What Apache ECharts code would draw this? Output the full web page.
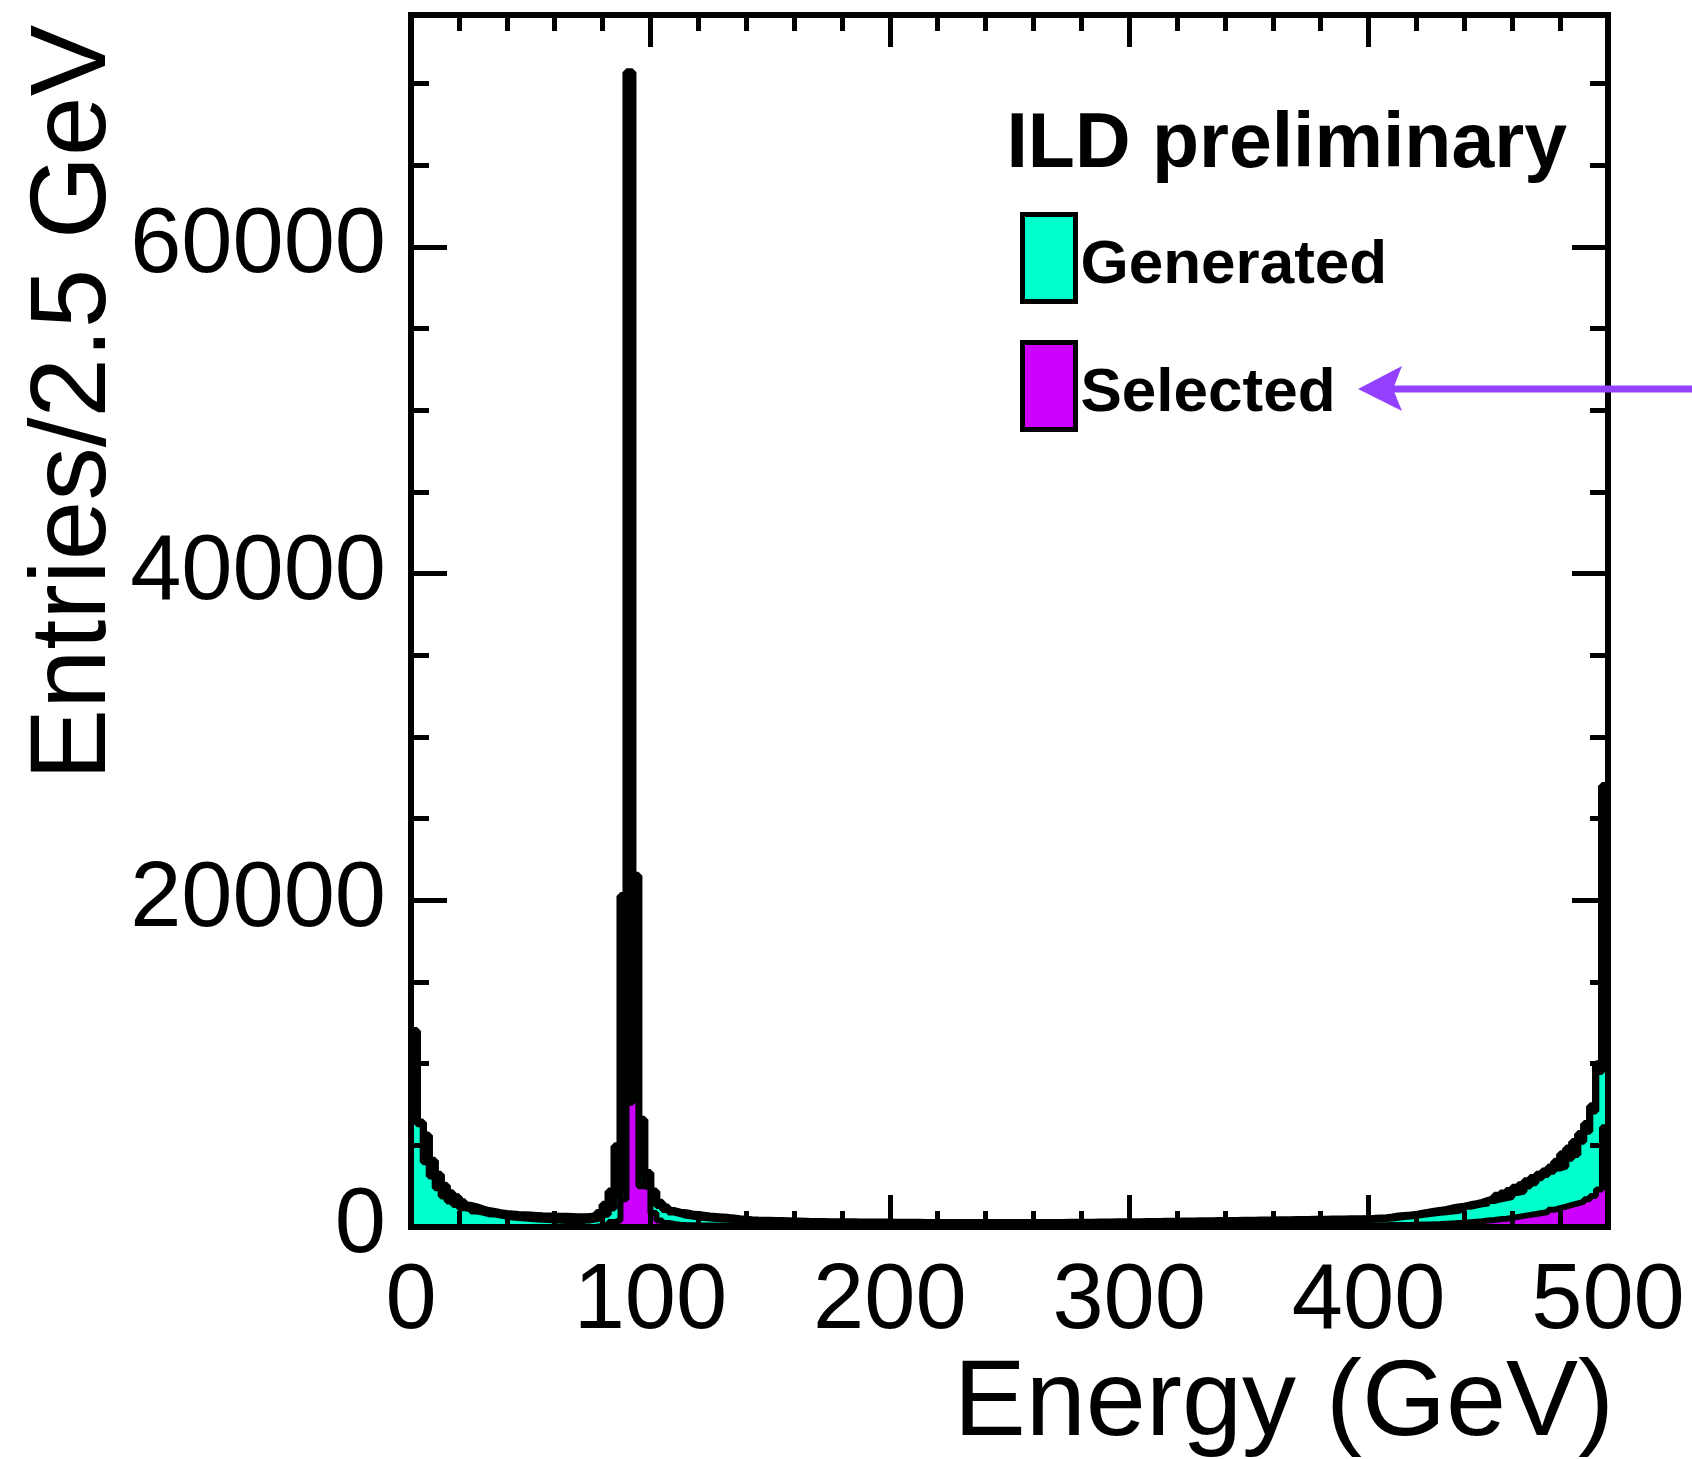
<!DOCTYPE html>
<html><head><meta charset="utf-8">
<script src="https://cdn.jsdelivr.net/npm/echarts@6/dist/echarts.min.js"></script>
<style>html,body{margin:0;padding:0;background:#fff;}#c{width:1692px;height:1459px;}</style>
</head><body><div id="c"></div>
<script>
const BIN_WIDTH = 2.5;
const xTickLabels = [0, 100, 200, 300, 400, 500];
const yTickLabels = [0, 20000, 40000, 60000];
const legendNames = ['Generated', 'Selected'];

// black thick histogram (all entries)
const totalCounts = [
 12000, 6400, 5600, 4050, 3200, 2530, 2070, 1820, 1510, 1300,
 1200, 1080, 980, 920, 850, 800, 770, 740, 720, 700,
 680, 660, 650, 640, 630, 620, 610, 600, 600, 610,
 700, 850, 1360, 2180, 4940, 20260, 70700, 21500, 6560, 3300,
 2180, 1480, 1200, 980, 880, 840, 770, 730, 690, 650,
 620, 590, 560, 520, 480, 450, 420, 400, 390, 380,
 370, 360, 350, 340, 330, 320, 310, 305, 300, 295,
 290, 290, 285, 285, 280, 280, 275, 275, 270, 270,
 265, 260, 260, 255, 255, 250, 250, 250, 250, 245,
 245, 245, 245, 245, 245, 245, 245, 245, 245, 245,
 245, 245, 245, 245, 245, 245, 250, 250, 250, 255,
 255, 260, 260, 265, 270, 275, 280, 285, 290, 290,
 290, 295, 300, 305, 310, 315, 320, 325, 330, 335,
 340, 345, 350, 355, 360, 365, 370, 375, 380, 385,
 390, 395, 400, 405, 410, 415, 420, 425, 430, 435,
 440, 445, 450, 455, 460, 465, 470, 475, 480, 490,
 500, 520, 540, 580, 640, 670, 700, 740, 820, 870,
 940, 990, 1050, 1130, 1190, 1240, 1330, 1400, 1480, 1600,
 1700, 1910, 2050, 2210, 2400, 2550, 2800, 3000, 3200, 3400,
 3650, 4000, 4450, 4800, 5200, 5700, 6300, 7400, 9960, 27000
];

const generatedCounts = [
 6800, 6300, 3980, 3100, 2390, 1880, 1570, 1360, 1160, 1100,
 960, 900, 800, 780, 715, 650, 590, 560, 530, 500,
 480, 460, 440, 420, 400, 390, 380, 380, 390, 420,
 480, 560, 760, 1150, 1900, 2300, 7800, 8550, 3240, 2700,
 1500, 1300, 1050, 900, 800, 700, 650, 600, 560, 530,
 500, 480, 460, 440, 420, 400, 380, 360, 350, 340,
 330, 320, 310, 300, 290, 285, 280, 275, 270, 265,
 260, 255, 250, 250, 245, 245, 240, 240, 235, 235,
 230, 230, 225, 225, 225, 220, 220, 220, 220, 220,
 220, 220, 218, 218, 218, 218, 218, 218, 220, 220,
 220, 220, 220, 220, 222, 224, 226, 228, 230, 232,
 234, 236, 238, 240, 243, 246, 249, 252, 255, 258,
 261, 264, 267, 270, 274, 278, 282, 286, 290, 294,
 298, 302, 306, 310, 315, 320, 325, 330, 335, 340,
 345, 350, 355, 360, 365, 370, 376, 382, 388, 394,
 400, 406, 412, 418, 424, 430, 436, 442, 450, 460,
 470, 490, 510, 540, 580, 620, 660, 700, 750, 800,
 840, 880, 920, 960, 1000, 1100, 1250, 1330, 1400, 1450,
 1600, 1700, 1770, 1850, 2100, 2180, 2500, 2690, 3000, 3200,
 3400, 3600, 3710, 4200, 4420, 5240, 5850, 7080, 9500, 9830
];

const selectedCounts = [
 0, 0, 0, 0, 0, 0, 0, 0, 0, 0,
 0, 0, 0, 0, 0, 0, 0, 0, 0, 0,
 0, 0, 0, 0, 0, 0, 0, 0, 0, 0,
 20, 60, 150, 300, 420, 1700, 7600, 8300, 2500, 2400,
 850, 400, 250, 180, 140, 120, 110, 100, 95, 90,
 85, 80, 75, 70, 70, 65, 65, 60, 60, 60,
 58, 56, 55, 54, 53, 52, 51, 50, 50, 50,
 50, 49, 49, 48, 48, 48, 48, 48, 48, 48,
 48, 48, 48, 48, 48, 48, 48, 48, 48, 48,
 48, 48, 48, 48, 48, 48, 48, 48, 48, 48,
 48, 48, 49, 49, 50, 50, 51, 51, 52, 52,
 53, 53, 54, 55, 56, 57, 58, 59, 60, 61,
 62, 63, 64, 65, 66, 67, 68, 69, 70, 71,
 72, 73, 74, 75, 76, 77, 78, 79, 80, 80,
 81, 81, 82, 82, 83, 83, 84, 84, 85, 85,
 86, 87, 88, 89, 90, 92, 94, 96, 98, 100,
 100, 105, 110, 115, 120, 125, 130, 140, 150, 160,
 170, 180, 200, 220, 240, 260, 290, 320, 350, 400,
 430, 470, 510, 560, 620, 680, 740, 800, 860, 920,
 1050, 1150, 1250, 1350, 1450, 1550, 1700, 1900, 2300, 6100
];

const Y_MAX = 74200;
const FONT = '"Liberation Sans", Arial, Helvetica, sans-serif';
const CYAN = '#00ffcc';
const MAGENTA = '#cc00ff';

function toSteps(counts) {
  const pts = counts.map((v, i) => [i * BIN_WIDTH, v]);
  pts.push([counts.length * BIN_WIDTH, counts[counts.length - 1]]);
  return pts;
}

const frameLine = { show: true, onZero: false, lineStyle: { color: '#000', width: 6, cap: 'square' } };
const tickStyle = { color: '#000', width: 5 };

function xAxisDef(pos, labels) {
  return {
    type: 'value', position: pos, min: 0, max: 500, interval: 100, z: 10,
    axisLine: frameLine,
    axisTick: { show: true, inside: true, length: 32, lineStyle: tickStyle },
    minorTick: { show: true, splitNumber: 5, length: 16, lineStyle: tickStyle },
    splitLine: { show: false }, minorSplitLine: { show: false },
    axisLabel: labels ? {
      show: true, fontSize: 92, fontFamily: FONT, color: '#000', margin: 30,
      formatter: v => xTickLabels.includes(v) ? String(v) : ''
    } : { show: false }
  };
}
function yMajor(pos, labels) {
  return {
    type: 'value', position: pos, min: 0, max: Y_MAX, interval: 20000, z: 10,
    axisLine: frameLine,
    axisTick: { show: true, inside: true, length: 36, lineStyle: tickStyle },
    splitLine: { show: false },
    axisLabel: labels ? {
      show: true, fontSize: 92, fontFamily: FONT, color: '#000', margin: 25,
      showMaxLabel: false,
      formatter: v => yTickLabels.includes(v) ? String(v) : ''
    } : { show: false }
  };
}
function yMinor(pos) {
  return {
    type: 'value', position: pos, min: 0, max: Y_MAX, interval: 5000, z: 10,
    axisLine: { show: false, onZero: false },
    axisTick: { show: true, inside: true, length: 18, lineStyle: tickStyle },
    splitLine: { show: false },
    axisLabel: { show: false }
  };
}

function histSeries(name, counts, fill, width, z) {
  return {
    type: 'line', name: name, step: 'end', data: toSteps(counts),
    showSymbol: false, symbol: 'none', z: z, animation: false,
    xAxisIndex: 0, yAxisIndex: 0,
    lineStyle: { color: '#000', width: width },
    itemStyle: { color: fill },
    areaStyle: { color: fill, opacity: 1 }
  };
}

const chart = echarts.init(document.getElementById('c'), null, { renderer: 'canvas' });
chart.setOption({
  animation: false,
  backgroundColor: '#fff',
  grid: { left: 411, right: 84, top: 15, bottom: 232, containLabel: false, outerBoundsMode: 'none' },
  xAxis: [xAxisDef('bottom', true), xAxisDef('top', false)],
  yAxis: [yMajor('left', true), yMinor('left'), yMajor('right', false), yMinor('right')],
  legend: {
    show: true, left: 1020, top: 212, orient: 'vertical', padding: 0,
    itemWidth: 53, itemHeight: 87, itemGap: 36, icon: 'rect', selectedMode: false,
    formatter: '{t|{name}}',
    textStyle: {
      fontSize: 62, fontWeight: 'bold', fontFamily: FONT, color: '#000',
      rich: { t: { fontSize: 62, fontWeight: 'bold', fontFamily: FONT, color: '#000', padding: [16, 0, 0, 0] } }
    },
    data: [
      { name: legendNames[0], itemStyle: { color: CYAN, borderColor: '#000', borderWidth: 5 } },
      { name: legendNames[1], itemStyle: { color: MAGENTA, borderColor: '#000', borderWidth: 5 } }
    ]
  },
  series: [
    histSeries('Total', totalCounts, '#000', 8, 2),
    histSeries(legendNames[0], generatedCounts, CYAN, 6.5, 3),
    histSeries(legendNames[1], selectedCounts, MAGENTA, 6, 4)
  ],
  graphic: [
    { type: 'text', x: 1614, y: 1405, z: 20,
      style: { text: 'Energy (GeV)', align: 'right', verticalAlign: 'middle', font: '108px ' + FONT, fill: '#000' } },
    { type: 'text', x: 75, y: 25, rotation: Math.PI / 2, z: 20,
      style: { text: 'Entries/2.5 GeV', align: 'right', verticalAlign: 'middle', font: '107px ' + FONT, fill: '#000' } },
    { type: 'text', x: 1567, y: 146, z: 20,
      style: { text: 'ILD preliminary', align: 'right', verticalAlign: 'middle', font: 'bold 77px ' + FONT, fill: '#000' } },
    { type: 'line', z: 20, shape: { x1: 1692, y1: 389, x2: 1392, y2: 389 },
      style: { stroke: '#9340ff', lineWidth: 7 } },
    { type: 'polygon', z: 20, shape: { points: [[1358, 389], [1402, 366], [1393, 389], [1402, 411]] },
      style: { fill: '#9340ff' } }
  ]
});
</script>
</body></html>
